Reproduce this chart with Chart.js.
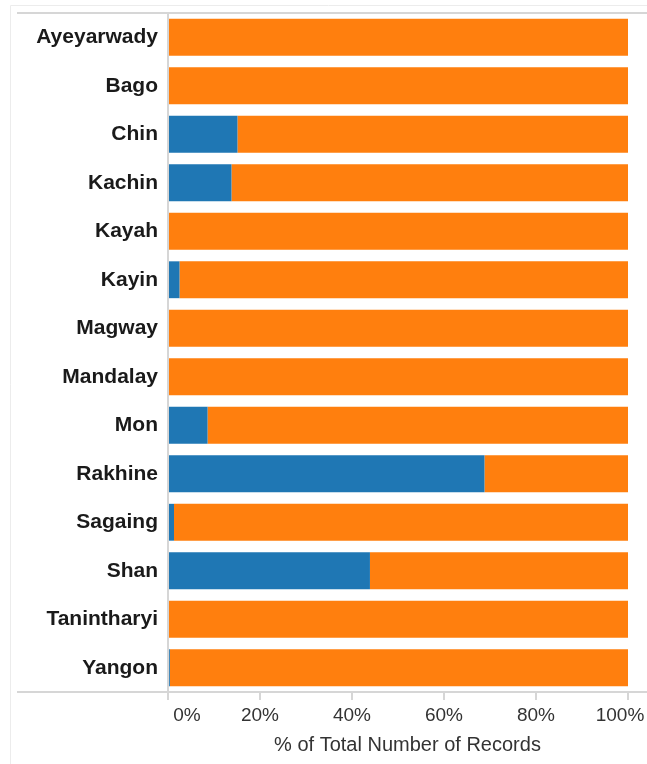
<!DOCTYPE html>
<html>
<head>
<meta charset="utf-8">
<script src="https://cdn.jsdelivr.net/npm/chart.js@4"></script>
<style>
  html, body { margin: 0; padding: 0; background: #fff; }
  #chart { display: block; }
</style>
</head>
<body>
<canvas id="chart" width="647" height="764"></canvas>
<script>
// values, % of total records per state/region
const regions = ['Ayeyarwady', 'Bago', 'Chin', 'Kachin', 'Kayah', 'Kayin', 'Magway',
                 'Mandalay', 'Mon', 'Rakhine', 'Sagaing', 'Shan', 'Tanintharyi', 'Yangon'];
const bluePct   = [0, 0, 15.1, 13.8, 0, 2.5, 0, 0, 8.6, 68.8, 1.3, 43.9, 0, 0.4];
const orangePct = [100, 100, 84.9, 86.2, 100, 97.5, 100, 100, 91.4, 31.2, 98.7, 56.1, 100, 99.6];
const tickLabels = ['0%', '20%', '40%', '60%', '80%', '100%'];
const axisTitle = '% of Total Number of Records';

const FONT = '"Liberation Sans", Arial, sans-serif';

// frame lines + x tick labels + axis title (Tableau-like look)
const decor = {
    id: 'decor',
    afterDraw(chart) {
        const ctx = chart.ctx;
        const area = chart.chartArea;
        const x = chart.scales.x;
        ctx.save();
        // faint outer frame
        ctx.strokeStyle = '#ececec';
        ctx.lineWidth = 1;
        ctx.beginPath();
        ctx.moveTo(10.5, 764); ctx.lineTo(10.5, 5.5); ctx.lineTo(647, 5.5);
        ctx.stroke();
        // top and bottom rules
        ctx.strokeStyle = '#d6d6d6';
        ctx.lineWidth = 2;
        ctx.beginPath();
        ctx.moveTo(17, area.top); ctx.lineTo(647, area.top);
        ctx.moveTo(17, area.bottom); ctx.lineTo(647, area.bottom);
        ctx.stroke();
        // tick labels, end ones kept inside like the original
        ctx.fillStyle = '#333';
        ctx.font = '19px ' + FONT;
        ctx.textAlign = 'center';
        ctx.textBaseline = 'middle';
        x.ticks.forEach((t, i) => {
            let px = x.getPixelForValue(t.value);
            if (i === 0) px += 19;
            if (i === x.ticks.length - 1) px -= 8;
            ctx.fillText(tickLabels[i], px, area.bottom + 24);
        });
        ctx.font = '20px ' + FONT;
        ctx.fillText(axisTitle, (area.left + 647) / 2, area.bottom + 53);
        ctx.restore();
    }
};

new Chart(document.getElementById('chart'), {
    type: 'bar',
    data: {
        labels: regions,
        datasets: [
            { label: 'Blue', data: bluePct, backgroundColor: '#1f77b4' },
            { label: 'Orange', data: orangePct, backgroundColor: '#ff7f0e' }
        ]
    },
    options: {
        indexAxis: 'y',
        responsive: false,
        animation: false,
        layout: { padding: { top: 13, right: 19, bottom: 0, left: 0 } },
        datasets: {
            bar: { categoryPercentage: 1, barPercentage: 0.76, borderWidth: 0 }
        },
        plugins: {
            legend: { display: false },
            tooltip: { enabled: false }
        },
        scales: {
            x: {
                stacked: true,
                min: 0,
                max: 100,
                ticks: { stepSize: 20, display: false },
                grid: { drawOnChartArea: false, drawTicks: true, tickLength: 8, color: '#d6d6d6', lineWidth: 2 },
                border: { display: false },
                afterFit(scale) {
                    scale.height = 72;
                    scale.paddingLeft = 0;
                    scale.paddingRight = 0;
                }
            },
            y: {
                stacked: true,
                ticks: {
                    padding: 10,
                    color: '#1a1a1a',
                    font: { family: FONT, size: 21, weight: 'bold' }
                },
                grid: { display: false, drawTicks: false },
                border: { display: true, color: '#d6d6d6', width: 2 },
                afterFit(scale) {
                    scale.width = 168;
                    scale.paddingTop = 0;
                    scale.paddingBottom = 0;
                }
            }
        }
    },
    plugins: [decor]
});
</script>
</body>
</html>
